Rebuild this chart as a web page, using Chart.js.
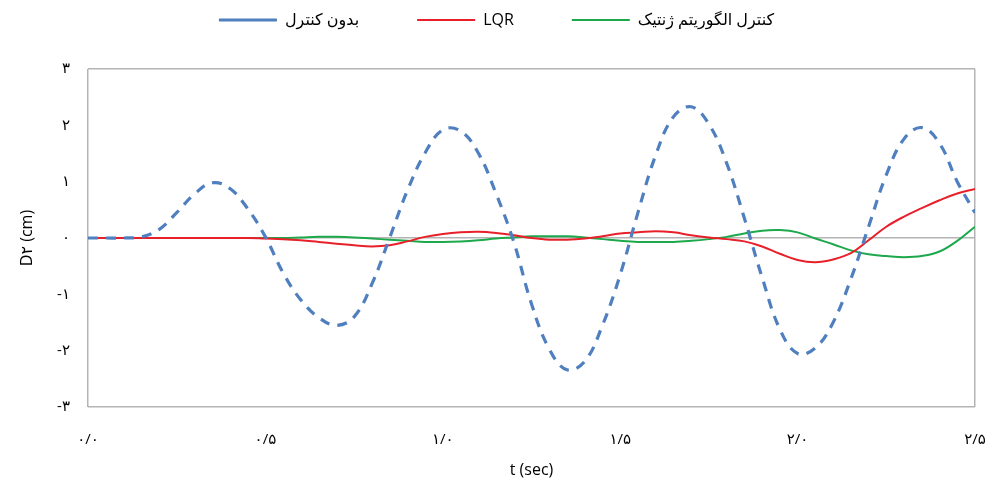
<!DOCTYPE html>
<html>
<head>
<meta charset="utf-8">
<script src="https://cdn.jsdelivr.net/npm/chart.js@4.4.1/dist/chart.umd.min.js"></script>
<style>
  html, body { margin: 0; padding: 0; background: #fff; }
  #wrap { width: 993px; height: 486px; }
</style>
</head>
<body>
<div id="wrap"><canvas id="chart1"></canvas></div>
<script>
// time samples (sec)
const time = [0, 0.05, 0.1, 0.15, 0.2, 0.25, 0.3, 0.35, 0.4, 0.45,
  0.5, 0.55, 0.6, 0.65, 0.7, 0.75, 0.8, 0.85, 0.9, 0.95,
  1.0, 1.05, 1.1, 1.15, 1.2, 1.25, 1.3, 1.35, 1.4, 1.45,
  1.5, 1.55, 1.6, 1.65, 1.7, 1.75, 1.8, 1.85, 1.9, 1.95,
  2.0, 2.05, 2.1, 2.15, 2.2, 2.25, 2.3, 2.35, 2.4, 2.45, 2.5];

// بدون کنترل
const noControl = [0, 0, 0, 0.02, 0.15, 0.45, 0.78, 0.98, 0.88, 0.52,
  0.02, -0.62, -1.1, -1.41, -1.55, -1.4, -0.82, 0.0, 0.84, 1.51,
  1.92, 1.9, 1.51, 0.79, -0.07, -1.17, -1.97, -2.34, -2.19, -1.55,
  -0.65, 0.45, 1.47, 2.15, 2.33, 2.02, 1.33, 0.35, -0.7, -1.62,
  -2.05, -1.95, -1.5, -0.73, 0.2, 1.12, 1.76, 1.96, 1.68, 1.0, 0.45];

// LQR
const lqr = [0, 0, 0, 0, 0, 0, 0, 0, 0, 0,
  -0.01, -0.02, -0.04, -0.07, -0.1, -0.13, -0.15, -0.13, -0.06, 0.02,
  0.07, 0.1, 0.11, 0.09, 0.05, 0.0, -0.03, -0.03, -0.01, 0.03,
  0.08, 0.1, 0.12, 0.1, 0.05, 0.01, -0.02, -0.06, -0.15, -0.28,
  -0.39, -0.43, -0.38, -0.27, -0.04, 0.2, 0.38, 0.53, 0.67, 0.79, 0.87];

// کنترل الگوریتم ژنتیک
const genetic = [0, 0, 0, 0, 0, 0, 0, 0, 0, 0,
  0, 0, 0.01, 0.02, 0.02, 0.01, -0.01, -0.03, -0.05, -0.07,
  -0.07, -0.06, -0.04, -0.01, 0.01, 0.03, 0.03, 0.03, 0.01, -0.02,
  -0.05, -0.07, -0.07, -0.07, -0.05, -0.02, 0.02, 0.08, 0.13, 0.14,
  0.1, -0.01, -0.11, -0.22, -0.29, -0.32, -0.34, -0.32, -0.24, -0.05, 0.2];

const seriesNames = ['بدون کنترل', 'LQR', 'کنترل الگوریتم ژنتیک'];
const yTitle = 'D۲ (cm)';
const xTitle = 't (sec)';

const faDigits = ['۰', '۱', '۲', '۳', '۴', '۵', '۶', '۷', '۸', '۹'];
function toFa(str) {
    return str.replace(/[0-9]/g, (d) => faDigits[+d]);
}

function points(arr) {
    return time.map((t, i) => ({x: t, y: arr[i]}));
}

const fontFamily = "'Open Sans', 'DejaVu Sans', sans-serif";

// legend box: fixed height so the plot starts at the same place,
// then its top pulled up so the labels sit near the top edge
const legendPlace = {
    id: 'legendPlace',
    beforeInit(chart) {
        const fit = chart.legend.fit;
        chart.legend.fit = function () {
            fit.call(this);
            this.height = 69;
        };
    },
    afterLayout(chart) {
        chart.legend.top -= 46;
    }
};

let ctx1 = document.getElementById('chart1').getContext('2d');
let chart1 = new Chart(ctx1, {
    type: 'line',
    data: {
        datasets: [
            {
                label: seriesNames[0],
                data: points(noControl),
                borderColor: '#4f7fbf',
                backgroundColor: '#4f7fbf',
                borderWidth: 3.2,
                borderDash: [10, 8],
                pointRadius: 0,
                tension: 0.4,
                fill: false
            },
            {
                label: seriesNames[1],
                data: points(lqr),
                borderColor: '#e8202a',
                backgroundColor: '#e8202a',
                borderWidth: 2,
                pointRadius: 0,
                tension: 0.4,
                fill: false
            },
            {
                label: seriesNames[2],
                data: points(genetic),
                borderColor: '#1ea84c',
                backgroundColor: '#1ea84c',
                borderWidth: 2,
                pointRadius: 0,
                tension: 0.4,
                fill: false
            }
        ]
    },
    options: {
        responsive: true,
        maintainAspectRatio: false,
        animation: false,
        layout: {
            padding: {top: 0, right: 0, bottom: 0, left: 0}
        },
        plugins: {
            legend: {
                position: 'top',
                labels: {
                    usePointStyle: true,
                    pointStyleWidth: 58,
                    pointStyle: 'line',
                    boxHeight: 14,
                    padding: 58,
                    color: '#000',
                    font: {family: fontFamily, size: 16}
                }
            },
            tooltip: {enabled: false}
        },
        scales: {
            x: {
                type: 'linear',
                min: 0,
                max: 2.5,
                afterFit: (s) => {
                    s.height = 79;
                    s.paddingLeft = 0;
                    s.paddingRight = 18;
                },
                border: {display: false},
                grid: {
                    drawTicks: false,
                    color: (c) => (c.tick && (c.tick.value === 0 || c.tick.value === 2.5)) ? '#b4b4b4' : 'rgba(0,0,0,0)',
                    lineWidth: 1.5
                },
                ticks: {
                    stepSize: 0.5,
                    padding: 24,
                    color: '#000',
                    maxRotation: 0,
                    font: {family: fontFamily, size: 15},
                    callback: (v) => toFa(v.toFixed(1).replace('.', '/'))
                },
                title: {
                    display: true,
                    text: xTitle,
                    color: '#000',
                    font: {family: fontFamily, size: 16},
                    padding: {top: 0, bottom: 6}
                }
            },
            y: {
                type: 'linear',
                min: -3,
                max: 3,
                afterFit: (s) => { s.width = 88; },
                border: {display: false},
                grid: {
                    drawTicks: false,
                    color: (c) => (c.tick && (c.tick.value === 0 || c.tick.value === 3 || c.tick.value === -3)) ? '#b4b4b4' : 'rgba(0,0,0,0)',
                    lineWidth: 1.5
                },
                ticks: {
                    stepSize: 1,
                    padding: 18,
                    color: '#000',
                    font: {family: fontFamily, size: 15},
                    callback: (v) => toFa(String(v))
                },
                title: {
                    display: true,
                    text: yTitle,
                    color: '#000',
                    font: {family: fontFamily, size: 16},
                    padding: {top: 18, bottom: 0}
                }
            }
        }
    },
    plugins: [legendPlace]
});
</script>
</body>
</html>
